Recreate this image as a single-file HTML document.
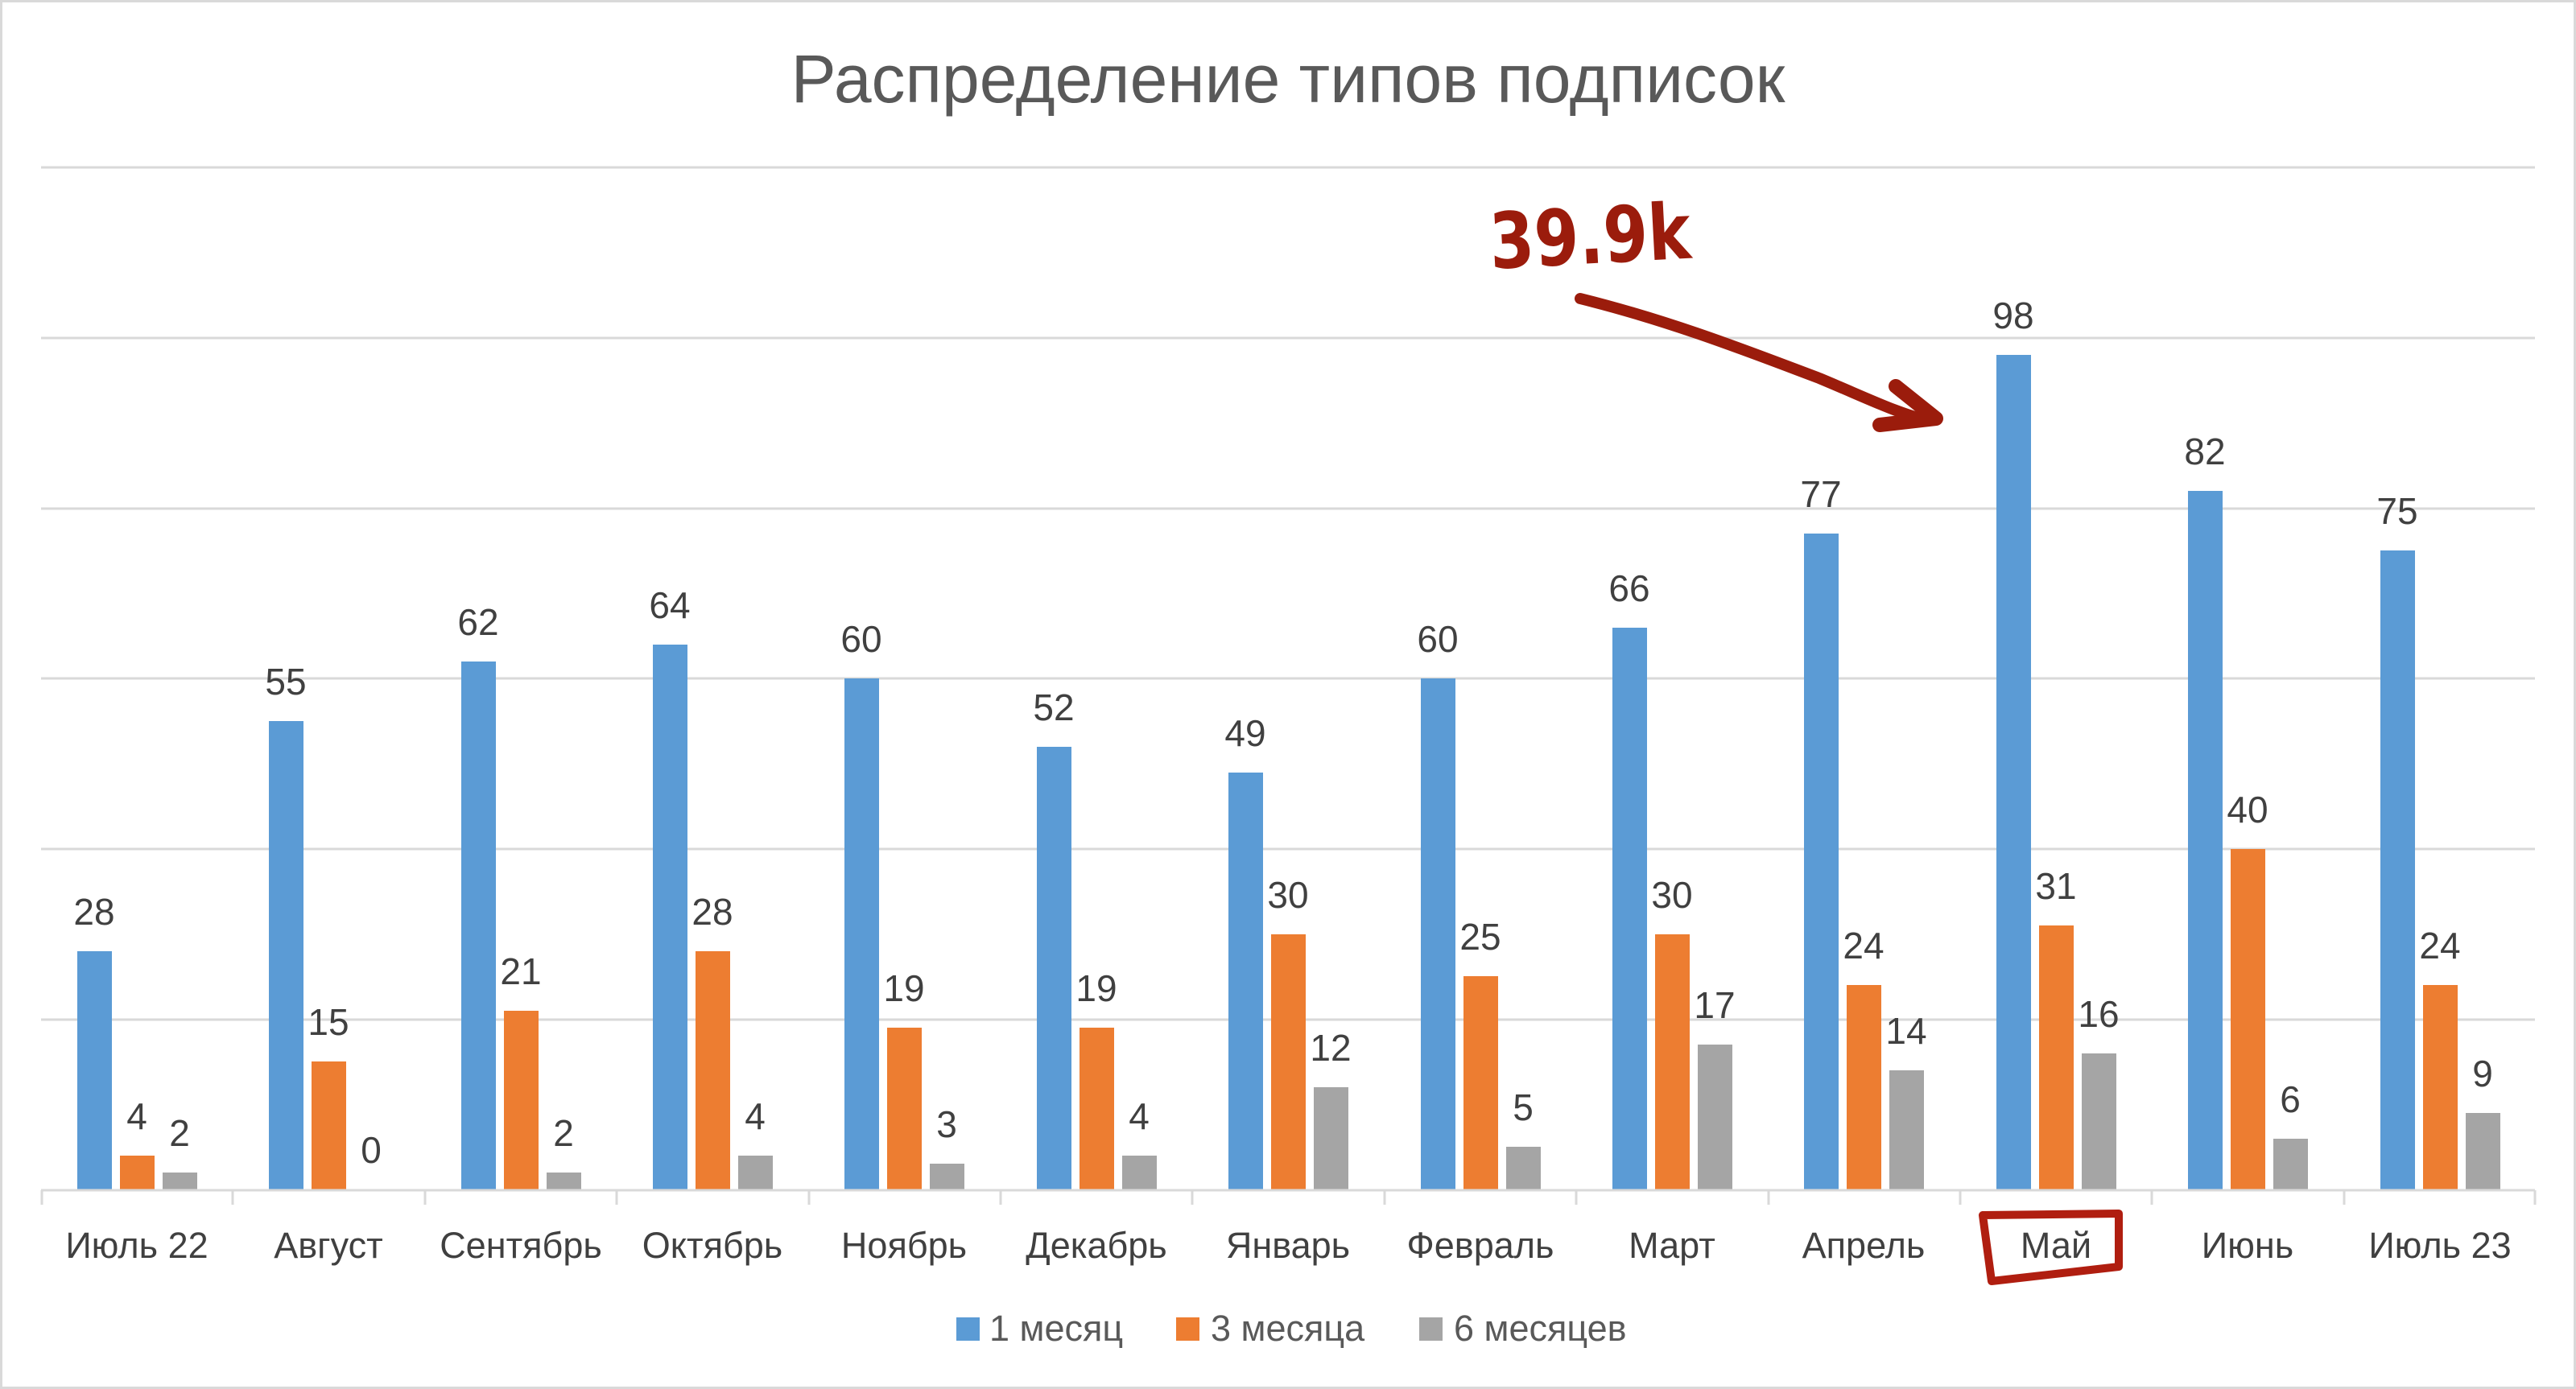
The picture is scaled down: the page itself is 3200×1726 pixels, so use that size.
<!DOCTYPE html>
<html><head><meta charset="utf-8"><style>
html,body{margin:0;padding:0;background:#fff;}
svg{display:block;}
text{font-family:"Liberation Sans","DejaVu Sans",sans-serif;fill:#404040;}
</style></head><body>
<svg width="3200" height="1726" viewBox="0 0 3200 1726" xmlns="http://www.w3.org/2000/svg">
<rect x="1.5" y="1.5" width="3197" height="1723" fill="#fff" stroke="#d9d9d9" stroke-width="3"/>
<text x="1600" y="127" font-size="84" text-anchor="middle" style="fill:#595959">Распределение типов подписок</text>
<g stroke="#d9d9d9" stroke-width="3">
<line x1="51" y1="208" x2="3149" y2="208"/>
<line x1="51" y1="420" x2="3149" y2="420"/>
<line x1="51" y1="632" x2="3149" y2="632"/>
<line x1="51" y1="843" x2="3149" y2="843"/>
<line x1="51" y1="1055" x2="3149" y2="1055"/>
<line x1="51" y1="1267" x2="3149" y2="1267"/>
</g>
<g fill="#5b9bd5">
<rect x="96" y="1182" width="43" height="296"/>
<rect x="334" y="896" width="43" height="582"/>
<rect x="573" y="822" width="43" height="656"/>
<rect x="811" y="801" width="43" height="677"/>
<rect x="1049" y="843" width="43" height="635"/>
<rect x="1288" y="928" width="43" height="550"/>
<rect x="1526" y="960" width="43" height="518"/>
<rect x="1765" y="843" width="43" height="635"/>
<rect x="2003" y="780" width="43" height="698"/>
<rect x="2241" y="663" width="43" height="815"/>
<rect x="2480" y="441" width="43" height="1037"/>
<rect x="2718" y="610" width="43" height="868"/>
<rect x="2957" y="684" width="43" height="794"/>
</g>
<g fill="#ed7d31">
<rect x="149" y="1436" width="43" height="42"/>
<rect x="387" y="1319" width="43" height="159"/>
<rect x="626" y="1256" width="43" height="222"/>
<rect x="864" y="1182" width="43" height="296"/>
<rect x="1102" y="1277" width="43" height="201"/>
<rect x="1341" y="1277" width="43" height="201"/>
<rect x="1579" y="1161" width="43" height="317"/>
<rect x="1818" y="1213" width="43" height="265"/>
<rect x="2056" y="1161" width="43" height="317"/>
<rect x="2294" y="1224" width="43" height="254"/>
<rect x="2533" y="1150" width="43" height="328"/>
<rect x="2771" y="1055" width="43" height="423"/>
<rect x="3010" y="1224" width="43" height="254"/>
</g>
<g fill="#a5a5a5">
<rect x="202" y="1457" width="43" height="21"/>
<rect x="679" y="1457" width="43" height="21"/>
<rect x="917" y="1436" width="43" height="42"/>
<rect x="1155" y="1446" width="43" height="32"/>
<rect x="1394" y="1436" width="43" height="42"/>
<rect x="1632" y="1351" width="43" height="127"/>
<rect x="1871" y="1425" width="43" height="53"/>
<rect x="2109" y="1298" width="43" height="180"/>
<rect x="2347" y="1330" width="43" height="148"/>
<rect x="2586" y="1309" width="43" height="169"/>
<rect x="2824" y="1415" width="43" height="63"/>
<rect x="3063" y="1383" width="43" height="95"/>
</g>
<g stroke="#d9d9d9" stroke-width="3">
<line x1="51" y1="1479" x2="3149" y2="1479"/>
<line x1="52" y1="1479" x2="52" y2="1497"/>
<line x1="289" y1="1479" x2="289" y2="1497"/>
<line x1="528" y1="1479" x2="528" y2="1497"/>
<line x1="766" y1="1479" x2="766" y2="1497"/>
<line x1="1005" y1="1479" x2="1005" y2="1497"/>
<line x1="1243" y1="1479" x2="1243" y2="1497"/>
<line x1="1481" y1="1479" x2="1481" y2="1497"/>
<line x1="1720" y1="1479" x2="1720" y2="1497"/>
<line x1="1958" y1="1479" x2="1958" y2="1497"/>
<line x1="2197" y1="1479" x2="2197" y2="1497"/>
<line x1="2435" y1="1479" x2="2435" y2="1497"/>
<line x1="2673" y1="1479" x2="2673" y2="1497"/>
<line x1="2912" y1="1479" x2="2912" y2="1497"/>
<line x1="3149" y1="1479" x2="3149" y2="1497"/>
</g>
<g font-size="46" text-anchor="middle">
<text x="117" y="1149">28</text><text x="170" y="1403">4</text><text x="223" y="1424">2</text>
<text x="355" y="863">55</text><text x="408" y="1286">15</text><text x="461" y="1445">0</text>
<text x="594" y="789">62</text><text x="647" y="1223">21</text><text x="700" y="1424">2</text>
<text x="832" y="768">64</text><text x="885" y="1149">28</text><text x="938" y="1403">4</text>
<text x="1070" y="810">60</text><text x="1123" y="1244">19</text><text x="1176" y="1413">3</text>
<text x="1309" y="895">52</text><text x="1362" y="1244">19</text><text x="1415" y="1403">4</text>
<text x="1547" y="927">49</text><text x="1600" y="1128">30</text><text x="1653" y="1318">12</text>
<text x="1786" y="810">60</text><text x="1839" y="1180">25</text><text x="1892" y="1392">5</text>
<text x="2024" y="747">66</text><text x="2077" y="1128">30</text><text x="2130" y="1265">17</text>
<text x="2262" y="630">77</text><text x="2315" y="1191">24</text><text x="2368" y="1297">14</text>
<text x="2501" y="408">98</text><text x="2554" y="1117">31</text><text x="2607" y="1276">16</text>
<text x="2739" y="577">82</text><text x="2792" y="1022">40</text><text x="2845" y="1382">6</text>
<text x="2978" y="651">75</text><text x="3031" y="1191">24</text><text x="3084" y="1350">9</text>
</g>
<g font-size="45" text-anchor="middle" style="fill:#595959">
<text x="170" y="1563">Июль 22</text>
<text x="408" y="1563">Август</text>
<text x="647" y="1563">Сентябрь</text>
<text x="885" y="1563">Октябрь</text>
<text x="1123" y="1563">Ноябрь</text>
<text x="1362" y="1563">Декабрь</text>
<text x="1600" y="1563">Январь</text>
<text x="1839" y="1563">Февраль</text>
<text x="2077" y="1563">Март</text>
<text x="2315" y="1563">Апрель</text>
<text x="2554" y="1563">Май</text>
<text x="2792" y="1563">Июнь</text>
<text x="3031" y="1563">Июль 23</text>
</g>
<rect x="1188" y="1637" width="29" height="29" fill="#5b9bd5"/>
<text x="1229" y="1666" font-size="45" style="fill:#595959">1 месяц</text>
<rect x="1461" y="1637" width="29" height="29" fill="#ed7d31"/>
<text x="1504" y="1666" font-size="45" style="fill:#595959">3 месяца</text>
<rect x="1763" y="1637" width="29" height="29" fill="#a5a5a5"/>
<text x="1806" y="1666" font-size="45" style="fill:#595959">6 месяцев</text>
<!-- annotation -->
<text x="1850" y="328" font-size="96" font-weight="bold" style="fill:#9b1c0c;font-family:'DejaVu Sans',sans-serif" transform="rotate(-3 1960 290)" textLength="250" lengthAdjust="spacingAndGlyphs">39.9k</text>
<path d="M1963 371 C2080 400 2180 440 2260 470 C2320 495 2360 515 2395 522" fill="none" stroke="#9b1c0c" stroke-width="14" stroke-linecap="round"/>
<path d="M2355 480 L2405 520 L2335 528" fill="none" stroke="#9b1c0c" stroke-width="18" stroke-linecap="round" stroke-linejoin="round"/>
<path d="M2463 1510 L2632 1508 L2632 1574 L2474 1592 Z" fill="none" stroke="#b01e10" stroke-width="10" stroke-linejoin="round"/>
</svg>
</body></html>
